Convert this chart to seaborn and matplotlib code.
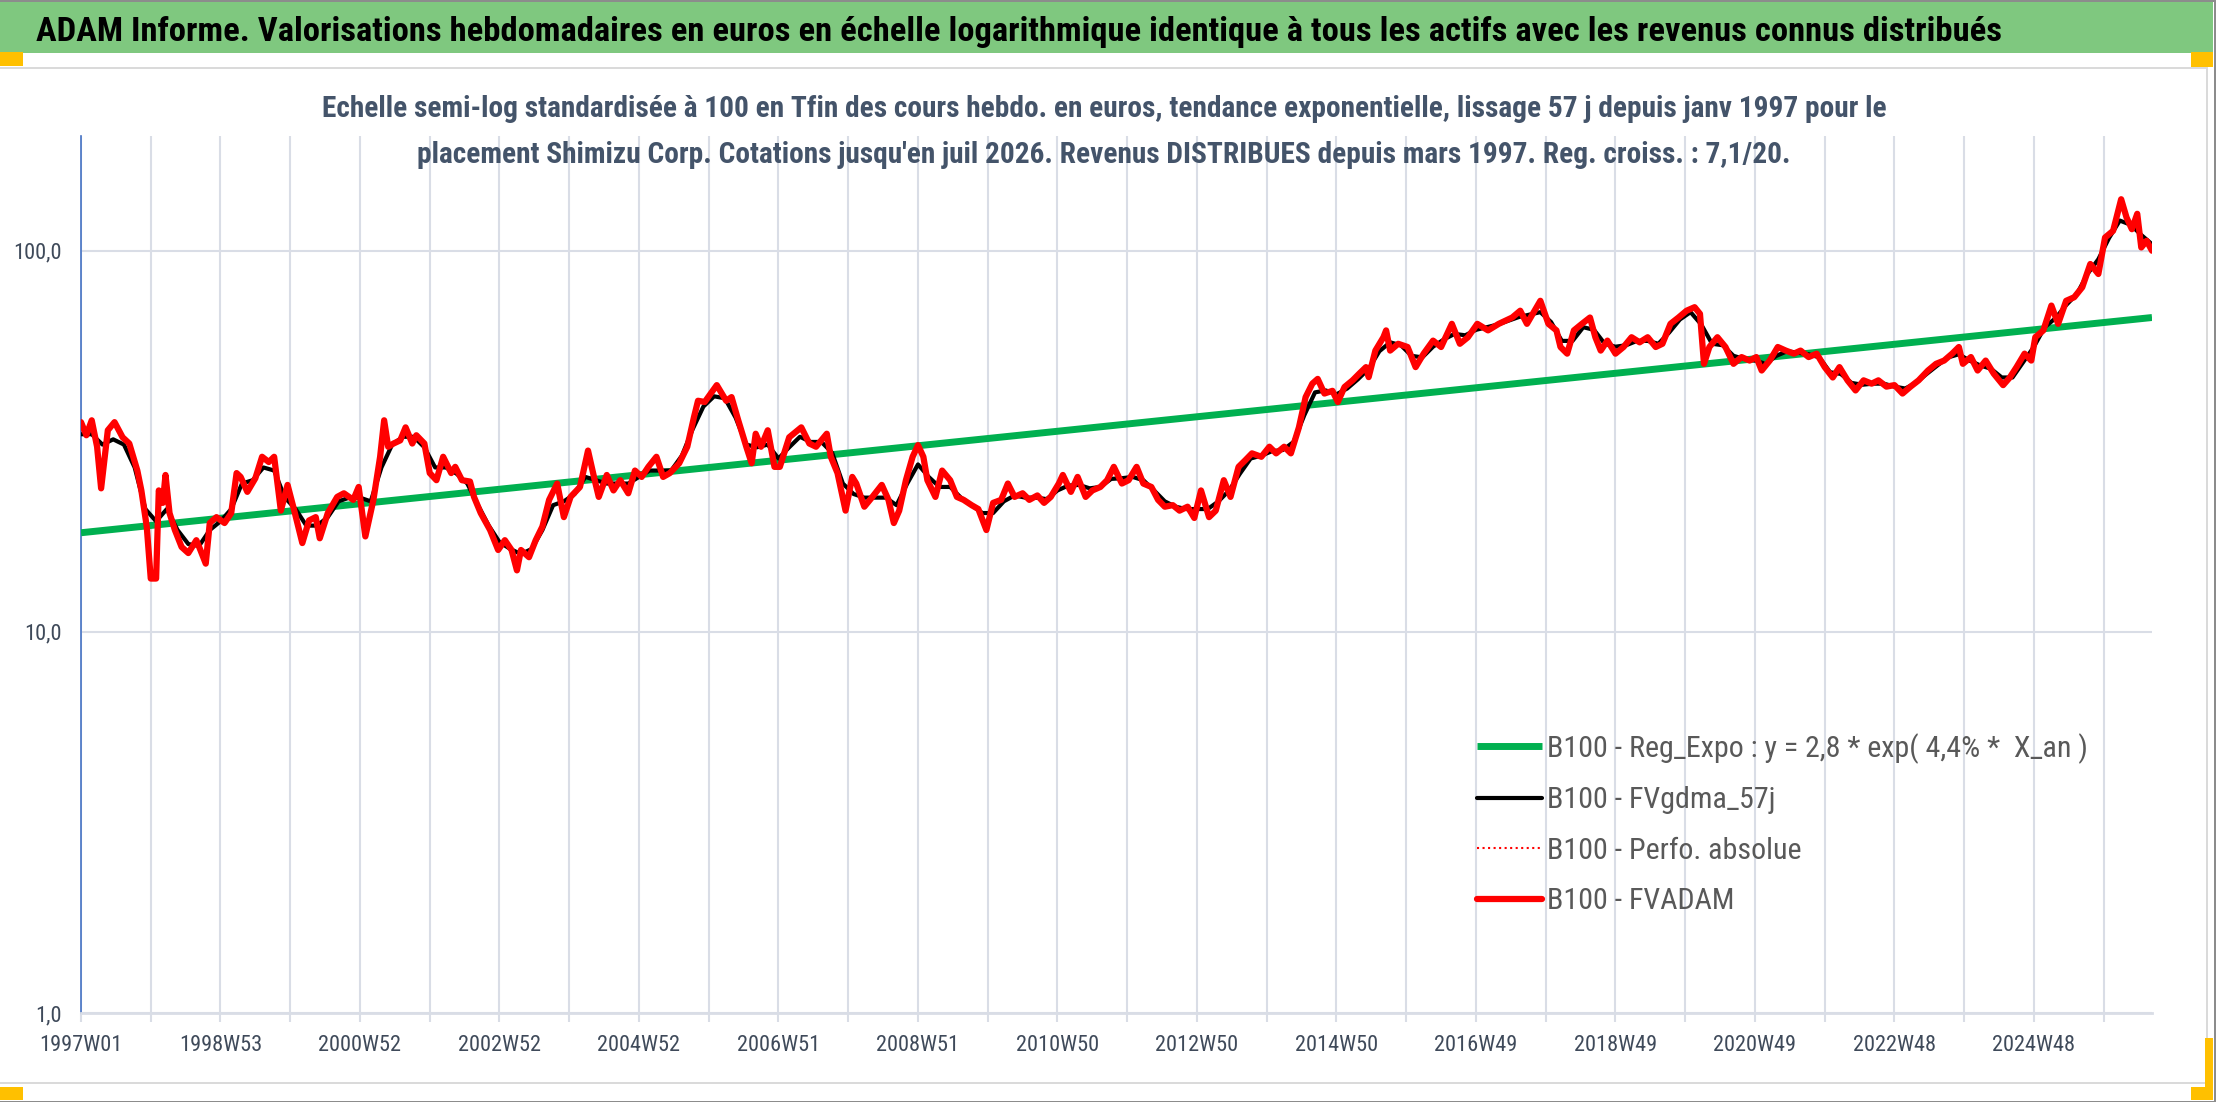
import numpy as np
import pandas as pd
import seaborn as sns
import matplotlib.pyplot as plt
from matplotlib import font_manager
from matplotlib.patches import Rectangle

# ------------------------------
# data (week index from 1997W01)
# ------------------------------
fvadam_week = [0, 4, 8, 12, 15, 20, 25, 31, 36, 42, 45, 49, 52, 56, 58, 61, 63, 66, 70, 75,
               80, 86, 89, 93, 96, 101, 107, 112, 116, 119, 124, 130, 135, 140, 144, 149, 154, 159, 165, 170,
               175, 178, 184, 191, 196, 203, 207, 212, 218, 223, 226, 229, 233, 238, 242, 247, 250, 256, 260, 265,
               270, 276, 279, 284, 290, 293, 298, 305, 311, 316, 321, 325, 328, 334, 339, 344, 349, 355, 360, 365,
               372, 378, 383, 386, 392, 397, 402, 408, 413, 418, 423, 429, 434, 439, 446, 452, 457, 460, 465, 474,
               481, 485, 490, 496, 500, 503, 507, 512, 517, 521, 528, 537, 543, 548, 556, 559, 564, 570, 575, 578,
               584, 590, 597, 602, 606, 610, 615, 620, 624, 628, 631, 637, 642, 648, 653, 658, 664, 669, 675, 680,
               686, 691, 696, 702, 707, 713, 718, 723, 729, 732, 738, 743, 749, 754, 760, 765, 770, 776, 781, 787,
               792, 798, 803, 808, 814, 819, 825, 830, 835, 841, 846, 852, 857, 863, 868, 873, 880, 886, 891, 897,
               902, 908, 913, 918, 922, 927, 933, 937, 942, 948, 953, 958, 960, 965, 971, 973, 976, 982, 989, 995,
               1001, 1008, 1014, 1022, 1028, 1034, 1041, 1049, 1057, 1067, 1073, 1078, 1088, 1094, 1100, 1103, 1108, 1113, 1119, 1125,
               1129, 1133, 1138, 1144, 1150, 1156, 1162, 1168, 1174, 1179, 1185, 1191, 1197, 1203, 1207, 1210, 1214, 1220, 1226, 1232,
               1238, 1244, 1249, 1253, 1259, 1265, 1271, 1277, 1282, 1288, 1294, 1300, 1306, 1311, 1317, 1323, 1329, 1335, 1340, 1346,
               1352, 1358, 1364, 1370, 1377, 1383, 1389, 1395, 1400, 1403, 1409, 1414, 1420, 1426, 1433, 1438, 1443, 1449, 1454, 1457,
               1463, 1469, 1474, 1480, 1486, 1492, 1498, 1504, 1509, 1515, 1521, 1525, 1529, 1533, 1536, 1540, 1544]
fvadam_val = [35.5, 32.8, 35.9, 30.6, 23.8, 33.8, 35.5, 32.4, 31.2, 26.5, 23.5, 18.9, 13.8, 13.8, 23.5, 21.8, 25.8, 20.5, 18.5, 16.7,
              16.1, 17.4, 16.4, 15.1, 19.3, 20.0, 19.3, 20.5, 26.1, 25.5, 23.3, 25.3, 28.8, 27.9, 28.8, 20.8, 24.3, 20.8, 17.1, 19.6,
              20.0, 17.6, 20.5, 22.6, 23.1, 22.2, 24.0, 17.8, 22.2, 28.8, 35.9, 30.6, 31.2, 31.8, 34.4, 31.2, 32.8, 31.2, 26.1, 25.0,
              28.8, 26.1, 27.1, 25.0, 24.8, 22.6, 20.5, 18.5, 16.4, 17.4, 16.4, 14.5, 16.4, 15.7, 17.4, 18.9, 22.2, 24.5, 20.0, 22.6,
              24.0, 29.9, 25.0, 22.6, 25.8, 23.5, 25.0, 23.1, 26.5, 25.5, 27.1, 28.8, 25.5, 26.1, 27.7, 30.6, 36.6, 40.4, 40.1, 44.4,
              40.4, 41.3, 35.9, 30.6, 27.7, 33.1, 30.6, 33.8, 27.1, 27.1, 32.4, 34.4, 31.2, 30.6, 33.1, 28.8, 26.1, 20.8, 25.5, 24.5,
              21.3, 22.6, 24.3, 22.2, 19.3, 20.8, 25.0, 28.8, 30.9, 28.8, 25.0, 22.6, 26.5, 25.0, 22.6, 22.2, 21.5, 21.0, 18.5, 21.8,
              22.2, 24.5, 22.6, 23.1, 22.2, 22.8, 21.8, 22.6, 24.5, 25.8, 23.3, 25.5, 22.6, 23.5, 24.0, 25.0, 27.1, 24.5, 25.0, 27.1,
              24.5, 24.0, 22.2, 21.3, 21.5, 20.8, 21.3, 19.9, 23.5, 20.0, 20.8, 25.0, 22.6, 27.1, 28.2, 29.4, 28.8, 30.6, 29.4, 30.6,
              29.4, 34.4, 41.3, 44.8, 46.1, 42.2, 42.9, 40.1, 43.9, 45.7, 47.6, 49.5, 46.6, 54.7, 59.3, 61.8, 54.7, 57.0, 55.9, 49.5,
              53.7, 58.1, 55.9, 64.3, 57.0, 59.3, 64.3, 61.8, 64.3, 66.8, 69.6, 64.3, 73.9, 64.3, 61.8, 55.9, 53.7, 61.8, 64.3, 66.8,
              59.3, 54.7, 58.1, 53.7, 55.9, 59.3, 57.5, 59.3, 55.9, 57.0, 64.3, 66.8, 69.6, 71.1, 68.3, 50.5, 55.9, 59.3, 55.9, 50.5,
              52.6, 51.5, 52.6, 48.5, 51.5, 55.9, 54.7, 53.7, 54.7, 52.6, 53.7, 49.5, 46.5, 49.5, 45.7, 43.0, 45.7, 44.8, 45.7, 44.0,
              44.4, 42.2, 44.0, 45.7, 48.5, 50.5, 51.5, 53.7, 55.9, 50.5, 52.6, 48.5, 51.5, 47.6, 44.4, 46.5, 49.5, 53.7, 51.5, 59.3,
              61.8, 71.8, 64.3, 73.9, 75.5, 80.2, 92.3, 86.9, 108.3, 112.8, 136.5, 122.3, 113.9, 125.0, 102.0, 106.2, 100.0]

gdma_week = [0, 8, 16, 24, 32, 40, 48, 56, 64, 72, 80, 88, 96, 104, 112, 120, 128, 136, 144, 152,
             160, 168, 176, 184, 192, 200, 208, 216, 224, 232, 240, 248, 256, 264, 272, 280, 288, 296, 304, 312,
             320, 328, 336, 344, 352, 360, 368, 376, 384, 392, 400, 408, 416, 424, 432, 440, 448, 456, 464, 472,
             480, 488, 496, 504, 512, 520, 528, 536, 544, 552, 560, 568, 576, 584, 592, 600, 608, 616, 624, 632,
             640, 648, 656, 664, 672, 680, 688, 696, 704, 712, 720, 728, 736, 744, 752, 760, 768, 776, 784, 792,
             800, 808, 816, 824, 832, 840, 848, 856, 864, 872, 880, 888, 896, 904, 912, 920, 928, 936, 944, 952,
             960, 968, 976, 984, 992, 1000, 1008, 1016, 1024, 1032, 1040, 1048, 1056, 1064, 1072, 1080, 1088, 1096, 1104, 1112,
             1120, 1128, 1136, 1144, 1152, 1160, 1168, 1176, 1184, 1192, 1200, 1208, 1216, 1224, 1232, 1240, 1248, 1256, 1264, 1272,
             1280, 1288, 1296, 1304, 1312, 1320, 1328, 1336, 1344, 1352, 1360, 1368, 1376, 1384, 1392, 1400, 1408, 1416, 1424, 1432,
             1440, 1448, 1456, 1464, 1472, 1480, 1488, 1496, 1504, 1512, 1520, 1528, 1536, 1544]
gdma_val = [33, 33, 31, 32, 31, 27, 21, 19.5, 21, 18.5, 17, 16.8, 18.5, 19.5, 21, 24.5, 25, 27, 26.5, 22.5,
            21, 19, 19, 20, 22, 22.5, 22.5, 22, 27, 31, 32.5, 32.5, 30.5, 27, 27, 26, 24.5, 21.5, 19, 17.2,
            16.5, 16, 16.5, 18.5, 21.5, 22, 23, 25.5, 25, 24.5, 24.5, 24.5, 25.5, 26.5, 26.5, 26.5, 29, 34, 39, 41.5,
            41, 36.5, 31, 30.5, 31, 28.5, 30.5, 32.5, 31.5, 31.5, 29.5, 24.5, 23, 22.5, 22.5, 22.5, 21.5, 24.5, 27.5, 25.5,
            24, 24, 22.5, 21.5, 20.5, 20.5, 22, 22.8, 22.5, 22.5, 22.3, 23.5, 24.2, 24.3, 23.8, 24, 25.2, 25.3, 25.5, 25,
            23.5, 22, 21.3, 21, 21, 21, 22, 23.5, 26, 28.5, 29, 29.8, 30, 31.5, 37, 42.5, 43, 42, 43.5, 46,
            49, 54.5, 57.5, 56.5, 53, 52.5, 56, 58.5, 60.5, 60, 62, 63, 64, 65.5, 67, 68, 69, 65, 58, 58,
            63, 62, 57, 56, 56.5, 58, 58, 57, 61, 66, 69, 64, 57, 56.5, 53, 52, 51.5, 50.5, 53, 54.5,
            54, 53.5, 52.5, 48, 47.5, 45, 44.5, 44.8, 44.8, 44, 43.5, 45, 47.5, 50, 52.5, 53.5, 51.5, 50, 49, 46.5,
            46.5, 51, 56, 63, 66.5, 72, 77, 87, 95, 108, 120, 117, 110, 104]

reg_week = [0, 1544]
reg_val = [18.2, 66.8]

label_weeks = list(range(0, 1457, 104))
x_labels = ['1997W01', '1998W53', '2000W52', '2002W52', '2004W52', '2006W51', '2008W51', '2010W50',
            '2012W50', '2014W50', '2016W49', '2018W49', '2020W49', '2022W48', '2024W48']
y_ticks = [1, 10, 100]
y_labels = ['1,0', '10,0', '100,0']

series_names = ['B100 - Reg_Expo : y = 2,8 * exp( 4,4% *  X_an )', 'B100 - FVgdma_57j',
                'B100 - Perfo. absolue', 'B100 - FVADAM']

title = ("ADAM Informe. Valorisations hebdomadaires en euros en échelle logarithmique "
         "identique à tous les actifs avec les revenus connus distribués")
sub1 = ("Echelle semi-log standardisée à 100 en Tfin des cours hebdo. en euros, tendance exponentielle, "
        "lissage 57 j depuis janv 1997 pour le")
sub2 = ("placement Shimizu Corp. Cotations jusqu'en juil 2026. Revenus DISTRIBUES depuis mars 1997. "
        "Reg. croiss. : 7,1/20.")

reg_df = pd.DataFrame({'week': reg_week, 'value': reg_val})
gdma_df = pd.DataFrame({'week': gdma_week, 'value': gdma_val})
fvadam_df = pd.DataFrame({'week': fvadam_week, 'value': fvadam_val})

# ------------------------------
# fonts: the original text is narrow (Calibri, squeezed), so look for narrow faces
# ------------------------------
sns.set_theme(style='white')
ttf = font_manager.fontManager.ttflist


def wnum(w):
    return w if isinstance(w, int) else font_manager.weight_dict.get(w, 400)


narrow = sorted({f.name for f in ttf if ('Narrow' in f.name or 'Condensed' in f.name)
                 and 'Mono' not in f.name and 'Serif' not in f.name})
prefer = ['Liberation Sans Narrow', 'Noto Sans Condensed', 'DejaVu Sans Condensed',
          'Open Sans Condensed', 'Roboto Condensed', 'Open Sans Condensed Light',
          'Noto Sans SemiCondensed']
order = [n for n in prefer if n in narrow] + [n for n in narrow if n not in prefer]
reg_fonts = [n for n in order if any(f.name == n and wnum(f.weight) <= 500 for f in ttf)]
bold_fonts = [n for n in order if any(f.name == n and wnum(f.weight) >= 600 for f in ttf)]
FONT_REG = reg_fonts[0] if reg_fonts else 'Lato'
FONT_BOLD = FONT_REG if FONT_REG in bold_fonts else (bold_fonts[0] if bold_fonts else 'Lato')
plt.rcParams['font.family'] = [FONT_REG, 'DejaVu Sans']

W, H = 2216, 1102
GRID = '#D9DDE6'
TXT = '#3F4A5A'

fig = plt.figure(figsize=(W / 100, H / 100), dpi=100)
fig.patch.set_facecolor('white')
renderer = fig.canvas.get_renderer()


def measure(txt, size, **kw):
    t = fig.text(0, 0, txt, fontsize=size, **kw)
    bb = t.get_window_extent(renderer=renderer)
    t.remove()
    return bb.width, bb.height


def fit_size(txt, width_px, **kw):
    return 20 * width_px / measure(txt, 20, **kw)[0]


def box(x0, y0, x1, y1, color, z=-5):
    # pixel coords from top-left
    fig.add_artist(Rectangle((x0 / W, 1 - y1 / H), (x1 - x0) / W, (y1 - y0) / H,
                             transform=fig.transFigure, color=color, lw=0, zorder=z))


# frame / banner like the spreadsheet screenshot
box(0, 0, W, H, '#8C8C8C', z=-9)
box(0, 2, W - 2, H - 1, 'white', z=-8)
box(0, 2, W - 3, 53, '#7FC87F', z=-7)
box(0, 67, 2208, 1084, '#DADADA', z=-7)
box(0, 69, 2206, 1082, 'white', z=-6)
ORANGE = '#FFC000'
box(0, 52, 23, 66, ORANGE)
box(2191, 52, 2213, 67, ORANGE)
box(0, 1087, 23, 1100, ORANGE)
box(2205, 1038, 2213, 1100, ORANGE)
box(2191, 1087, 2213, 1100, ORANGE)

# titles
bold = dict(fontfamily=[FONT_BOLD, 'DejaVu Sans'], fontweight='bold')
fs_title = fit_size(title, 1952, **bold)
fig.text(36 / W, 1 - 41 / H, title, fontsize=fs_title, color='black', ha='left', va='baseline', **bold)
fs_sub = fit_size(sub1, 1565, **bold)
fig.text(1104 / W, 1 - 117 / H, sub1, fontsize=fs_sub, color='#44546A', ha='center', va='baseline',
         zorder=10, **bold)
fig.text(1104 / W, 1 - 163 / H, sub2, fontsize=fs_sub, color='#44546A', ha='center', va='baseline',
         zorder=10, **bold)

# ------------------------------
# chart
# ------------------------------
ax = fig.add_axes([81 / W, (H - 1013) / H, (2152 - 81) / W, (1013 - 136) / H])
ax.set_facecolor('white')

sns.lineplot(data=reg_df, x='week', y='value', color='#00B050', lw=5, label=series_names[0],
             ax=ax, zorder=3, solid_capstyle='butt')
sns.lineplot(data=gdma_df, x='week', y='value', color='black', lw=3, label=series_names[1],
             ax=ax, zorder=4)
sns.lineplot(data=fvadam_df, x='week', y='value', color='#FF0000', lw=1.5, linestyle=':',
             label=series_names[2], ax=ax, zorder=4.5)
sns.lineplot(data=fvadam_df, x='week', y='value', color='#FF0000', lw=4.5, label=series_names[3],
             ax=ax, zorder=5, solid_joinstyle='round')

ax.set_yscale('log')
ax.set_ylim(1, 200)
ax.set_xlim(0, 1544)
ax.set_xlabel('')
ax.set_ylabel('')

fs_tick = fit_size('1997W01', 83)
ax.set_xticks(label_weeks, labels=x_labels)
ax.set_xticks(list(range(52, 1544, 104)), minor=True)
ax.set_yticks(y_ticks, labels=y_labels)
ax.yaxis.set_minor_locator(plt.NullLocator())

ax.grid(True, which='both', axis='x', color=GRID, lw=1.5)
ax.grid(True, which='major', axis='y', color=GRID, lw=1.5)
ax.set_axisbelow(True)
ax.tick_params(axis='x', which='both', bottom=True, length=6.5, width=1.5, color=GRID,
               direction='out', pad=9, labelsize=fs_tick, labelcolor=TXT)
ax.tick_params(axis='y', which='both', left=False, length=0, pad=14, labelsize=fs_tick,
               labelcolor=TXT)
for s in ['top', 'right']:
    ax.spines[s].set_visible(False)
ax.spines['bottom'].set_color(GRID)
ax.spines['bottom'].set_linewidth(2)
ax.spines['left'].set_color('#4472C4')
ax.spines['left'].set_linewidth(1.2)

# legend: rows 50.5 px apart, first row centred at y=747
fs_leg = fit_size(series_names[0], 540)
fs_px = fs_leg * 100 / 72
row_h = measure(series_names[1], fs_leg)[1]
handles, labels = ax.get_legend_handles_labels()
ax.legend(handles, labels, loc='upper left', frameon=False, fontsize=fs_leg, labelcolor='#595959',
          bbox_to_anchor=(1477 / W, 1 - (747 - row_h / 2) / H), bbox_transform=fig.transFigure,
          borderpad=0, borderaxespad=0, handlelength=65 / fs_px, handletextpad=5 / fs_px,
          labelspacing=(50.5 - row_h) / fs_px)

fig.savefig('out.png', dpi=100)
